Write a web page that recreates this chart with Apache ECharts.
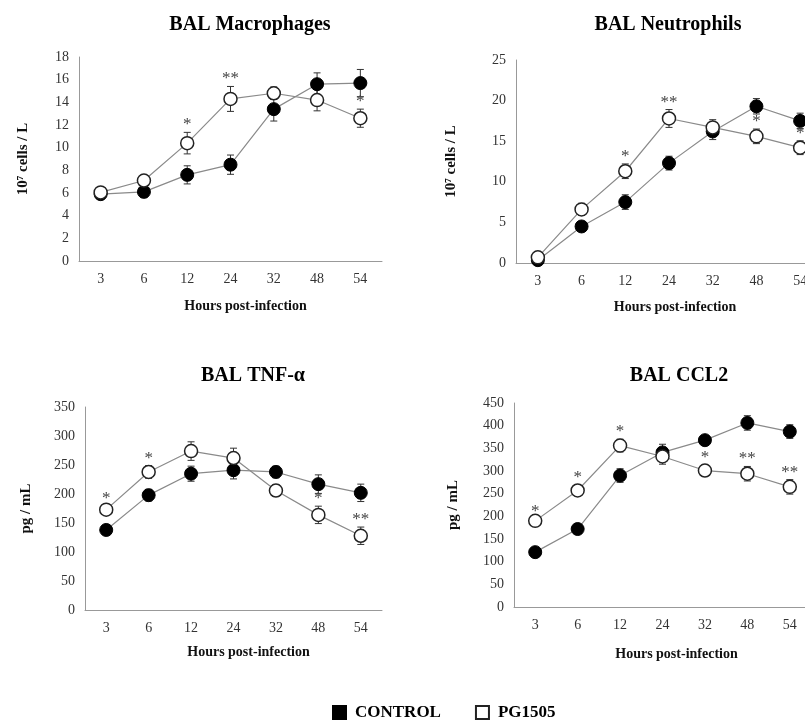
<!DOCTYPE html>
<html>
<head>
<meta charset="utf-8">
<script src="https://cdn.jsdelivr.net/npm/echarts@6/dist/echarts.min.js"></script>
<style>html,body{margin:0;padding:0;background:#fff;overflow:hidden}#c{width:830px;height:720px}</style>
</head>
<body>
<div id="c"></div>
<script>
const hours = ['3','6','12','24','32','48','54'];

const macroControl = [5.9, 6.1, 7.6, 8.5, 13.4, 15.6, 15.7];
const macroControlErr = [0.2, 0.5, 0.8, 0.85, 1.05, 1.0, 1.2];
const macroPG = [6.05, 7.1, 10.4, 14.3, 14.8, 14.2, 12.6];
const macroPGErr = [0.3, 0.3, 0.95, 1.1, 0.55, 0.95, 0.8];
const macroStars = ['', '', '*', '**', '', '', '*'];

const neutroControl = [0.35, 4.5, 7.5, 12.3, 16.2, 19.3, 17.5];
const neutroControlErr = [0.2, 0.3, 0.9, 0.85, 1.0, 0.95, 0.95];
const neutroPG = [0.7, 6.6, 11.3, 17.8, 16.7, 15.6, 14.2];
const neutroPGErr = [0.2, 0.75, 0.9, 1.1, 0.95, 0.9, 0.85];
const neutroStars = ['', '', '*', '**', '', '*', '*'];

const tnfControl = [138, 198, 235, 241, 238, 217, 202];
const tnfControlErr = [7, 10, 13, 15, 10, 16, 15];
const tnfPG = [173, 238, 274, 262, 206, 164, 128];
const tnfPGErr = [7, 11, 16, 17, 10, 15, 15];
const tnfStars = ['*', '*', '', '', '', '*', '**'];

const ccl2Control = [121, 172, 290, 341, 368, 406, 387];
const ccl2ControlErr = [5, 7, 15, 18, 8, 16, 15];
const ccl2PG = [190, 257, 356, 332, 301, 294, 265];
const ccl2PGErr = [5, 12, 14, 17, 12, 16, 16];
const ccl2Stars = ['*', '*', '*', '', '*', '**', '**'];

const panelTitles = ['BAL Macrophages', 'BAL Neutrophils', 'BAL TNF-α', 'BAL CCL2'];
const yNames = ['10⁷ cells / L', '10⁷ cells / L', 'pg / mL', 'pg / mL'];
const xName = 'Hours post-infection';
const yMax = [18, 25, 350, 450];
const yStep = [2, 5, 50, 50];

const panels = [
  {c: macroControl, ce: macroControlErr, p: macroPG, pe: macroPGErr, s: macroStars},
  {c: neutroControl, ce: neutroControlErr, p: neutroPG, pe: neutroPGErr, s: neutroStars},
  {c: tnfControl, ce: tnfControlErr, p: tnfPG, pe: tnfPGErr, s: tnfStars},
  {c: ccl2Control, ce: ccl2ControlErr, p: ccl2PG, pe: ccl2PGErr, s: ccl2Stars}
];

const FONT = "'Liberation Serif', 'Times New Roman', serif";
const grids = [
  {left: 79, top: 57, width: 303, height: 204},
  {left: 516, top: 60, width: 306, height: 203},
  {left: 85, top: 407, width: 297, height: 203},
  {left: 514, top: 403, width: 297, height: 204}
];
const titlePos = [[245, 10], [663, 10], [248, 361], [674, 361]];
const yGap = [48, 57, 51, 53];
const xGap = [38, 37, 35, 40];
const xNameShift = [30, 12, 30, 28];

function errSeries(idx, vals, errs) {
  return {
    type: 'custom', xAxisIndex: idx, yAxisIndex: idx, silent: true, z: 1,
    data: vals.map((v, i) => [i, v, errs[i]]),
    renderItem: function (params, api) {
      const x = api.value(0), y = api.value(1), e = api.value(2);
      const t = api.coord([x, y + e]), b = api.coord([x, y - e]);
      const c = 3.5;
      const st = {stroke: '#333', lineWidth: 1};
      return {type: 'group', children: [
        {type: 'line', shape: {x1: t[0], y1: t[1], x2: b[0], y2: b[1]}, style: st},
        {type: 'line', shape: {x1: t[0] - c, y1: t[1], x2: t[0] + c, y2: t[1]}, style: st},
        {type: 'line', shape: {x1: b[0] - c, y1: b[1], x2: b[0] + c, y2: b[1]}, style: st}
      ]};
    }
  };
}

function starSeries(idx, vals, errs, stars) {
  return {
    type: 'custom', xAxisIndex: idx, yAxisIndex: idx, silent: true, z: 5,
    data: vals.map((v, i) => [i, v + errs[i], stars[i]]),
    renderItem: function (params, api) {
      const s = stars[params.dataIndex];
      if (!s) return null;
      const p = api.coord([api.value(0), api.value(1)]);
      return {type: 'text', x: p[0], y: p[1] + 1, style: {
        text: s, fill: '#444', font: '17px ' + FONT, align: 'center', verticalAlign: 'bottom'
      }};
    }
  };
}

const option = {
  animation: false,
  backgroundColor: '#fff',
  title: panelTitles.map((t, i) => ({
    text: t, left: titlePos[i][0], top: titlePos[i][1], textAlign: 'center',
    textStyle: {fontFamily: FONT, fontWeight: 'bold', fontSize: 20, color: '#000'}
  })),
  legend: {
    data: ['CONTROL', 'PG1505'], left: 327, top: 699, icon: 'rect',
    itemWidth: 13, itemHeight: 13, itemGap: 34,
    lineStyle: {width: 0},
    textStyle: {fontFamily: FONT, fontWeight: 'bold', fontSize: 17, color: '#000', padding: [0, 0, 0, 4]}
  },
  grid: grids,
  xAxis: grids.map((g, i) => ({
    type: 'category', gridIndex: i, data: hours, boundaryGap: true,
    name: xName, nameLocation: 'middle', nameGap: xGap[i],
    nameTextStyle: {fontFamily: FONT, fontWeight: 'bold', fontSize: 14, color: '#111', padding: [0, 0, 0, xNameShift[i]]},
    axisLine: {lineStyle: {color: '#999', width: 1}},
    axisTick: {show: false},
    axisLabel: {fontFamily: FONT, fontSize: 14, color: '#333', margin: 11},
    splitLine: {show: false}
  })),
  yAxis: grids.map((g, i) => ({
    type: 'value', gridIndex: i, min: 0, max: yMax[i], interval: yStep[i],
    name: yNames[i], nameLocation: 'middle', nameGap: yGap[i],
    nameTextStyle: {fontFamily: FONT, fontWeight: 'bold', fontSize: 15, color: '#111'},
    axisLine: {show: true, lineStyle: {color: '#999', width: 1}},
    axisTick: {show: false},
    axisLabel: {fontFamily: FONT, fontSize: 14, color: '#333', margin: 10},
    splitLine: {show: false}
  })),
  series: []
};

panels.forEach((p, i) => {
  option.series.push(errSeries(i, p.c, p.ce));
  option.series.push(errSeries(i, p.p, p.pe));
  option.series.push({
    name: 'CONTROL', type: 'line', xAxisIndex: i, yAxisIndex: i, data: p.c, z: 3,
    symbol: 'circle', symbolSize: 13,
    lineStyle: {color: '#8a8a8a', width: 1.2},
    itemStyle: {color: '#000', borderColor: '#000', borderWidth: 1}
  });
  option.series.push({
    name: 'PG1505', type: 'line', xAxisIndex: i, yAxisIndex: i, data: p.p, z: 4,
    symbol: 'circle', symbolSize: 13,
    lineStyle: {color: '#8a8a8a', width: 1.2},
    itemStyle: {color: '#fff', borderColor: '#222', borderWidth: 1.5}
  });
  option.series.push(starSeries(i, p.p, p.pe, p.s));
});

const chart = echarts.init(document.getElementById('c'), null, {renderer: 'canvas'});
chart.setOption(option);
</script>
</body>
</html>
